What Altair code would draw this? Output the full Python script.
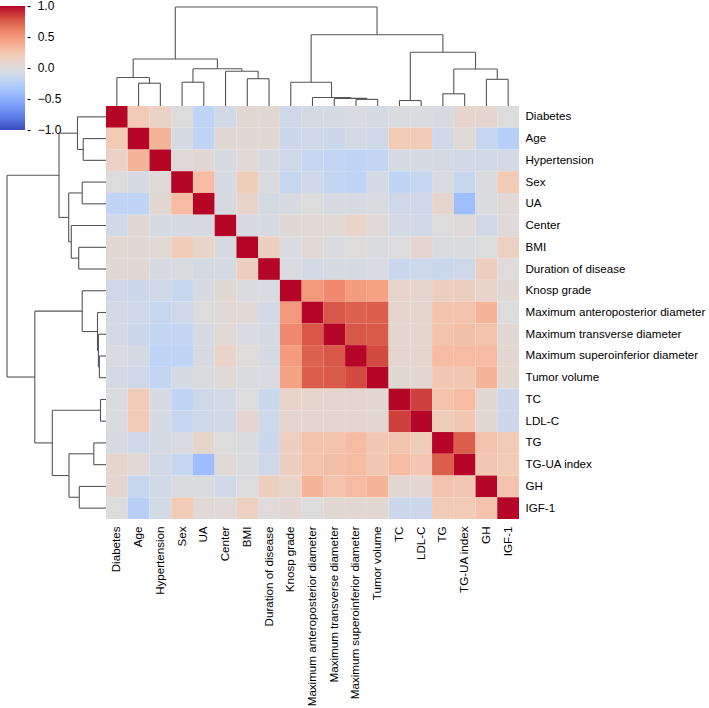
import json
import altair as alt
import pandas as pd

labels = ["Diabetes", "Age", "Hypertension", "Sex", "UA", "Center", "BMI",
          "Duration of disease", "Knosp grade", "Maximum anteroposterior diameter",
          "Maximum transverse diameter", "Maximum superoinferior diameter",
          "Tumor volume", "TC", "LDL-C", "TG", "TG-UA index", "GH", "IGF-1"]

r_diabetes = [1.00, 0.20, 0.12, 0.00, -0.20, -0.08, 0.06, 0.05, -0.10, -0.06, -0.06, -0.03, -0.06, -0.02, -0.02, -0.04, 0.08, 0.07, -0.01]
r_age = [0.20, 1.00, 0.35, -0.05, -0.20, 0.05, 0.05, 0.05, -0.12, -0.10, -0.12, -0.06, -0.10, 0.20, 0.20, -0.10, 0.04, -0.15, -0.25]
r_hyp = [0.12, 0.35, 1.00, 0.02, 0.05, -0.05, 0.03, -0.04, -0.10, -0.15, -0.18, -0.20, -0.18, -0.05, -0.05, -0.06, -0.08, -0.08, -0.07]
r_sex = [0.00, -0.05, 0.02, 1.00, 0.30, -0.05, 0.18, -0.02, -0.15, -0.10, -0.18, -0.20, -0.06, -0.20, -0.15, -0.03, -0.15, -0.02, 0.20]
r_ua = [-0.20, -0.20, 0.05, 0.30, 1.00, -0.04, 0.10, -0.06, -0.04, 0.00, -0.04, -0.04, -0.02, -0.10, -0.10, 0.08, -0.40, -0.02, 0.04]
r_center = [-0.08, 0.05, -0.05, -0.05, -0.04, 1.00, -0.04, -0.05, 0.05, 0.03, 0.03, 0.10, 0.02, -0.07, -0.08, -0.01, 0.02, -0.08, 0.02]
r_bmi = [0.06, 0.05, 0.03, 0.18, 0.10, -0.04, 1.00, 0.15, -0.02, 0.03, -0.03, 0.01, -0.02, -0.01, 0.07, -0.02, -0.02, 0.00, 0.14]
r_duration = [0.05, 0.05, -0.04, -0.02, -0.06, -0.05, 0.15, 1.00, -0.03, -0.07, -0.05, -0.05, -0.03, -0.13, -0.11, -0.13, -0.10, 0.15, 0.01]
r_knosp = [-0.10, -0.12, -0.10, -0.15, -0.04, 0.05, -0.02, -0.03, 1.00, 0.50, 0.58, 0.48, 0.45, 0.10, 0.07, 0.15, 0.15, 0.10, 0.05]
r_max_ap = [-0.06, -0.10, -0.15, -0.10, 0.00, 0.03, 0.03, -0.07, 0.50, 1.00, 0.78, 0.74, 0.75, 0.08, 0.07, 0.25, 0.25, 0.35, 0.00]
r_max_t = [-0.06, -0.12, -0.18, -0.18, -0.04, 0.03, -0.03, -0.05, 0.58, 0.78, 1.00, 0.78, 0.77, 0.07, 0.07, 0.25, 0.28, 0.25, 0.05]
r_max_si = [-0.03, -0.06, -0.20, -0.20, -0.04, 0.10, 0.01, -0.05, 0.48, 0.74, 0.78, 1.00, 0.82, 0.07, 0.07, 0.30, 0.30, 0.30, 0.06]
r_tumor = [-0.06, -0.10, -0.18, -0.06, -0.02, 0.02, -0.02, -0.03, 0.45, 0.75, 0.77, 0.82, 1.00, 0.06, 0.06, 0.22, 0.22, 0.35, 0.06]
r_tc = [-0.02, 0.20, -0.05, -0.20, -0.10, -0.07, -0.01, -0.13, 0.10, 0.08, 0.07, 0.07, 0.06, 1.00, 0.85, 0.25, 0.30, 0.06, -0.12]
r_ldl = [-0.02, 0.20, -0.05, -0.15, -0.10, -0.08, 0.07, -0.11, 0.07, 0.07, 0.07, 0.07, 0.06, 0.85, 1.00, 0.18, 0.22, 0.06, -0.12]
r_tg = [-0.04, -0.10, -0.06, -0.03, 0.08, -0.01, -0.02, -0.13, 0.15, 0.25, 0.25, 0.30, 0.22, 0.25, 0.18, 1.00, 0.75, 0.25, 0.20]
r_tgua = [0.08, 0.04, -0.08, -0.15, -0.40, 0.02, -0.02, -0.10, 0.15, 0.25, 0.28, 0.30, 0.22, 0.30, 0.22, 0.75, 1.00, 0.22, 0.20]
r_gh = [0.07, -0.15, -0.08, -0.02, -0.02, -0.08, 0.00, 0.15, 0.10, 0.35, 0.25, 0.30, 0.35, 0.06, 0.06, 0.25, 0.22, 1.00, 0.25]
r_igf = [-0.01, -0.25, -0.07, 0.20, 0.04, 0.02, 0.14, 0.01, 0.05, 0.00, 0.05, 0.06, 0.06, -0.12, -0.12, 0.20, 0.20, 0.25, 1.00]

# hierarchical clustering merges (ids 19..36), in leaf display order
merge_left = [11, 10, 9, 8, 13, 15, 17, 24, 23, 22, 1, 0, 3, 6, 5, 31, 30, 35]
merge_right = [12, 19, 20, 21, 14, 16, 18, 25, 26, 27, 2, 29, 4, 7, 32, 33, 34, 28]
merge_dist = [0.132, 0.152, 0.170, 0.476, 0.110, 0.244, 0.534, 0.740, 1.074, 1.424,
              0.456, 0.570, 0.476, 0.546, 0.694, 0.746, 0.940, 1.980]

# matplotlib "coolwarm"
cw_stops = [-1.0, -0.8, -0.6, -0.4, -0.2, 0.0, 0.2, 0.4, 0.6, 0.8, 1.0]
cw_colors = ["#3b4cc0", "#5b7ae5", "#7b9ff9", "#9ebeff", "#c0d4f5", "#dddcdc",
             "#f2cbb7", "#f7ac8e", "#ee8468", "#d65244", "#b40426"]
tick_values = [-1.0, -0.5, 0.0, 0.5, 1.0]

rows = [r_diabetes, r_age, r_hyp, r_sex, r_ua, r_center, r_bmi, r_duration, r_knosp,
        r_max_ap, r_max_t, r_max_si, r_tumor, r_tc, r_ldl, r_tg, r_tgua, r_gh, r_igf]
n = len(labels)

cells = []
for i, row in enumerate(rows):
    for j, v in enumerate(row):
        cells.append({"r0": i, "r1": i + 1, "c0": j, "c1": j + 1, "v": v})
cells_df = pd.DataFrame(cells)

# dendrogram segments
pos = {i: i + 0.5 for i in range(n)}
hgt = {i: 0.0 for i in range(n)}
segs = []
for k, (a, b, d) in enumerate(zip(merge_left, merge_right, merge_dist)):
    node = n + k
    pa, pb = pos[a], pos[b]
    segs.append({"p1": pa, "p2": pa, "d1": hgt[a], "d2": d})
    segs.append({"p1": pa, "p2": pb, "d1": d, "d2": d})
    segs.append({"p1": pb, "p2": pb, "d1": hgt[b], "d2": d})
    pos[node] = (pa + pb) / 2
    hgt[node] = d
segs_df = pd.DataFrame(segs)

FONT = "Liberation Sans"
HM = [106, 519]
DENDRO = [106, 7]
dmax = max(merge_dist)

# tiny padding of the colour domain so the end labels of the colour bar stay centred on their values
color_domain = [cw_stops[0] - 0.005] + cw_stops[1:-1] + [cw_stops[-1] + 0.005]

label_expr = json.dumps(labels) + "[floor(datum.value)]"
tick_vals = [i + 0.5 for i in range(n)]

heat = alt.Chart(cells_df).mark_rect().encode(
    x=alt.X("c0:Q", scale=alt.Scale(domain=[0, n], range=HM, nice=False, zero=False),
            axis=alt.Axis(orient="bottom", values=tick_vals, labelExpr=label_expr,
                          labelAngle=-90, ticks=False, domain=False, grid=False,
                          labelPadding=7, labelFont=FONT, labelFontSize=11.6,
                          labelColor="#000000", labelLimit=400, labelOverlap=False,
                          title=None)),
    x2="c1:Q",
    y=alt.Y("r0:Q", scale=alt.Scale(domain=[0, n], range=HM, nice=False, zero=False),
            axis=alt.Axis(orient="right", values=tick_vals, labelExpr=label_expr,
                          ticks=False, domain=False, grid=False, labelPadding=6,
                          labelFont=FONT, labelFontSize=11.6, labelColor="#000000",
                          labelLimit=400, labelOverlap=False, title=None)),
    y2="r1:Q",
    color=alt.Color("v:Q",
                    scale=alt.Scale(domain=color_domain, range=cw_colors, interpolate="rgb"),
                    legend=alt.Legend(type="gradient", orient="none", legendX=0, legendY=6,
                                      direction="vertical",
                                      gradientLength=124, gradientThickness=25, title=None,
                                      values=tick_values, format=".1f",
                                      labelExpr="'-\u00a0\u00a0' + datum.label",
                                      labelBaseline="middle", labelOffset=2,
                                      labelFont=FONT, labelFontSize=12, labelColor="#000000",
                                      gradientStrokeWidth=0, padding=0)),
)

top = alt.Chart(segs_df).mark_rule(color="#555555", strokeWidth=1.1).encode(
    x=alt.X("p1:Q", scale=alt.Scale(domain=[0, n], range=HM, nice=False, zero=False), axis=None),
    x2="p2:Q",
    y=alt.Y("d1:Q", scale=alt.Scale(domain=[0, dmax], range=DENDRO, nice=False, zero=False), axis=None),
    y2="d2:Q",
)

left = alt.Chart(segs_df).mark_rule(color="#555555", strokeWidth=1.1).encode(
    y=alt.Y("p1:Q", scale=alt.Scale(domain=[0, n], range=HM, nice=False, zero=False), axis=None),
    y2="p2:Q",
    x=alt.X("d1:Q", scale=alt.Scale(domain=[0, dmax], range=DENDRO, nice=False, zero=False), axis=None),
    x2="d2:Q",
)

chart = alt.layer(heat, top, left).resolve_scale(
    x="independent", y="independent"
).properties(
    width=519, height=519,
    autosize=alt.AutoSizeParams(type="none"),
    padding={"left": 0, "top": 0, "right": 190, "bottom": 189},
    background="white",
).configure_view(stroke=None)

chart.save("out.html", embed_options={"renderer": "svg", "actions": False})
